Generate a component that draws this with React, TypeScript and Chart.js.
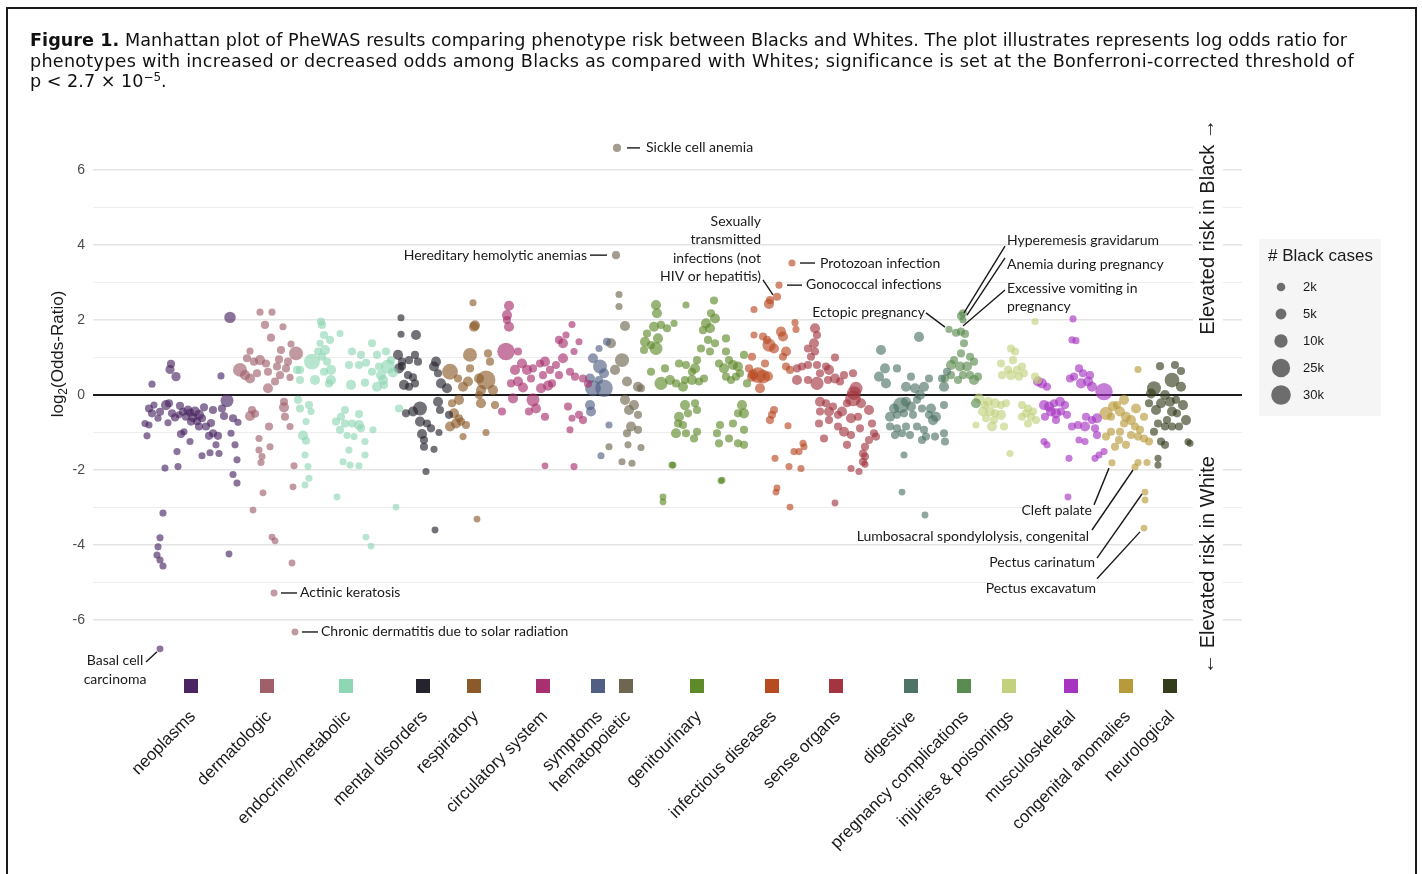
import React, { useEffect, useRef } from "react";
import { Chart, registerables } from "chart.js";
Chart.register(...registerables);

// ---------- DATA ----------
const categoryNames = [
  "neoplasms", "dermatologic", "endocrine/metabolic", "mental disorders", "respiratory",
  "circulatory system", "symptoms", "hematopoietic", "genitourinary", "infectious diseases",
  "sense organs", "digestive", "pregnancy complications", "injuries & poisonings",
  "musculoskeletal", "congenital anomalies", "neurological",
];
const categoryColors = [
  "#4a2562", "#a0606a", "#8fd6b4", "#25232e", "#8b5a2b", "#a8306e", "#525f84", "#6e6650",
  "#5e8a2a", "#b84a22", "#a33540", "#4f7466", "#5a8b50", "#c2d17e", "#a634c0", "#b89a3a", "#333d1c",
];
// phenotype index of each category's centre
const categoryCenters = [98, 174, 253, 330, 381, 450, 505, 533, 604, 679, 743, 818, 871, 916, 978, 1033, 1077];

// each point: [phenotype index, log2(OR), # Black cases (thousands)]
const neoplasms = [[59,0.29,.4],[78,0.83,1],[77,0.68,2],[83,0.49,2],[128,0.51,.4],[137,2.07,5],[134,-0.15,8],
[56,-0.36,1],[61,-0.27,.4],[59,-0.49,1],[52,-0.76,.4],[56,-0.8,.4],[54,-1.09,.4],[73,-0.27,3],[76,-0.22,1],[79,-0.49,1],[87,-0.29,1],[86,-0.53,.4],[93,-0.58,1],[97,-0.47,1],[102,-0.44,3],[106,-0.53,3],[109,-0.62,1],[98,-0.71,1],[91,-0.98,.4],[88,-1.04,1],[97,-1.24,.4],[84,-1.51,.4],[85,-1.91,.4],[109,-1.62,.4],[116,-1.09,1],[120,-1.02,1],[125,-1.09,1],[123,-1.33,.4],[117,-1.54,.4],[126,-1.56,.4],[111,-0.33,1],[120,-0.4,1],[129,-0.36,1],[131,-0.56,1],[140,-0.62,1],[145,-0.73,.4],[138,-1.02,.4],[142,-1.33,.4],[144,-1.73,.4],[140,-2.12,.4],[113,-0.84,1],[106,-0.84,1],[75,-0.74,.4],[72,-1.95,.4],[70,-3.15,.4],[67,-3.81,.4],[65,-4.05,.4],[64,-4.27,.4],[67,-4.4,.4],[70,-4.56,.4],[67,-6.77,.3],[144,-2.35,.4],[136,-4.24,.3],[95,-0.4,2],[100,-0.6,2],[82,-0.6,1],[67,-0.45,1],[65,-0.62,.4],[104,-0.7,1],[118,-0.75,1],[90,-0.45,1]];
const dermatologic = [[167,2.21,.4],[179,2.21,.4],[172,1.87,1],[190,1.82,.4],[178,1.53,1],[198,1.36,.4],[157,1.17,.4],[154,0.98,1],[161,0.89,1],[167,0.93,3],[173,0.84,1],[147,0.67,10],[152,0.53,3],[157,0.44,3],[164,0.58,1],[175,0.62,1],[184,0.76,1],[188,1.2,1],[195,0.89,1],[193,0.71,1],[187,0.53,1],[182,0.36,1],[175,0.18,3],[203,1.11,10],[197,0.47,.4],[159,-0.4,1],[157,-0.56,3],[191,-0.18,1],[191,-0.33,3],[192,-0.58,1],[176,-0.84,1],[166,-1.16,.4],[177,-1.38,.4],[166,-1.47,.4],[169,-1.64,.4],[168,-1.8,.4],[197,-0.84,.4],[170,-2.61,.3],[160,-3.07,.3],[179,-3.79,.3],[182,-3.89,.3],[199,-4.48,.3],[181,-5.28,.3],[202,-6.32,.3],[200,-2.45,.3],[201,-1.89,.4],[162,-0.5,1],[186,0.95,1]];
const endocrine = [[228,1.96,1],[229,1.87,1],[247,1.64,.4],[231,1.6,1],[237,1.47,1],[227,1.38,.4],[225,1.16,1],[232,1.2,3],[229,1.02,1],[219,0.89,15],[234,0.89,1],[238,0.67,3],[231,0.62,1],[222,0.4,3],[238,0.4,3],[236,0.31,1],[207,0.67,1],[204,0.67,1],[207,0.4,1],[279,1.38,1],[284,1.07,1],[259,1.16,1],[266,0.8,1],[273,0.86,1],[279,0.62,1],[258,0.27,3],[272,0.33,1],[284,0.22,3],[291,0.27,1],[295,0.76,10],[293,1.16,1],[288,0.53,3],[298,0.93,1],[286,0.76,1],[256,0.8,1],[268,1.07,1],[300,0.6,3],[290,0.4,3],[205,-0.13,1],[207,-0.36,1],[216,-0.27,1],[218,-0.44,.4],[213,-0.71,.4],[210,-1.08,3],[213,-1.22,1],[212,-1.6,.4],[215,-1.91,.4],[216,-2.22,.4],[252,-0.4,1],[248,-0.58,1],[243,-0.71,1],[247,-0.93,1],[252,-0.76,1],[259,-0.76,1],[266,-0.51,1],[266,-0.8,3],[268,-0.89,1],[254,-1.08,.4],[261,-1.11,.4],[280,-0.93,.4],[272,-1.24,.4],[256,-1.47,.4],[272,-1.6,.4],[250,-1.78,.4],[257,-1.87,.4],[266,-1.89,.4],[306,-0.36,1],[212,-2.4,.3],[244,-2.72,.3],[273,-3.79,.3],[278,-4.03,.3],[303,-2.99,.3]];
const mental = [[308,2.06,.4],[308,1.62,.4],[323,1.6,3],[305,1.07,3],[309,0.89,1],[316,0.93,1],[322,1.07,1],[325,0.89,1],[306,0.71,3],[309,0.77,1],[315,0.53,1],[320,0.47,1],[311,0.27,3],[316,0.22,1],[322,0.31,1],[343,0.89,3],[341,0.76,3],[345,0.58,1],[348,0.31,3],[354,0.18,3],[327,-0.36,10],[320,-0.44,3],[313,-0.49,1],[345,-0.18,3],[347,-0.4,1],[356,-0.53,1],[327,-0.71,3],[334,-0.76,1],[338,-0.89,1],[329,-1.04,3],[331,-1.2,1],[331,-1.38,1],[341,-1.45,.4],[346,-1.0,.4],[333,-2.04,.4],[342,-3.6,.3]];
const respiratory = [[380,2.46,.4],[381,1.82,3],[377,1.07,10],[395,1.11,1],[377,0.71,1],[397,0.89,1],[357,0.62,15],[365,0.44,1],[370,0.22,3],[375,0.36,3],[386,0.44,3],[393,0.4,25],[400,0.13,3],[388,0.13,3],[359,-0.22,1],[366,-0.13,3],[361,-0.49,3],[366,-0.62,1],[357,-0.84,3],[363,-0.76,3],[368,-0.71,1],[373,-0.8,1],[370,-1.11,.4],[388,-0.22,3],[402,-0.27,1],[393,-1.0,.4],[386,0.0,1],[384,-3.31,.3],[382,1.86,3]];
const circulatory = [[416,2.38,3],[414,2.13,3],[414,2.0,1],[416,1.82,3],[413,1.16,20],[425,1.16,1],[429,0.84,3],[422,0.67,3],[418,0.31,1],[425,0.36,3],[434,0.67,3],[438,0.44,1],[440,0.71,1],[447,0.84,1],[452,0.89,3],[450,0.53,1],[448,0.18,3],[457,0.67,1],[463,0.8,1],[466,1.47,1],[470,1.38,3],[473,1.6,.4],[479,1.88,.4],[486,1.42,.4],[481,1.16,.4],[470,0.98,3],[477,0.62,1],[482,0.49,1],[490,0.44,1],[466,0.53,1],[459,0.31,1],[420,-0.09,3],[440,-0.13,8],[443,-0.36,3],[436,-0.44,1],[409,-0.44,1],[452,-0.58,1],[475,-0.31,1],[486,-0.53,1],[490,-0.67,1],[479,-0.62,.4],[477,-0.93,.4],[481,-1.91,.4],[452,-1.89,.3],[455,0.25,3],[430,0.2,3],[495,0.3,1]];
const symptoms = [[514,1.42,1],[506,1.24,.4],[500,0.98,3],[507,0.76,10],[511,0.58,3],[497,0.44,3],[506,0.4,1],[500,0.18,15],[511,0.18,20],[497,-0.27,3],[498,-0.44,3],[516,-0.8,.4],[508,-1.62,.4]];
const hematopoietic = [[524,6.59,1],[523,3.73,1],[526,2.68,.4],[526,2.36,.4],[532,1.84,3],[518,1.38,3],[529,0.93,10],[522,0.67,3],[534,0.36,3],[545,0.22,3],[548,0.18,1],[532,-0.13,3],[541,-0.27,3],[536,-0.4,3],[545,-0.53,1],[538,-0.84,3],[534,-1.02,1],[545,-0.93,1],[516,-1.38,.4],[535,-1.33,.4],[548,-1.4,.4],[529,-1.78,.4],[539,-1.82,.4]];
const genitourinary = [[563,2.4,3],[564,2.18,3],[593,2.4,.4],[621,2.52,1],[618,2.18,1],[622,2.04,3],[613,1.91,3],[554,1.64,1],[561,1.82,3],[568,1.87,1],[574,1.78,1],[581,1.91,.4],[552,1.42,3],[558,1.33,1],[563,1.24,8],[551,1.2,1],[565,1.51,3],[610,1.73,1],[617,1.78,3],[615,1.47,1],[622,1.38,1],[633,1.51,1],[608,1.24,1],[617,1.16,1],[633,1.16,1],[604,0.93,1],[602,0.71,3],[593,0.8,1],[599,0.62,1],[611,0.44,1],[606,0.36,1],[599,0.4,3],[572,0.71,1],[577,0.4,3],[568,0.31,8],[558,0.62,1],[583,0.31,1],[590,0.22,3],[592,0.4,1],[586,0.84,1],[636,0.93,1],[640,0.8,3],[645,0.76,3],[633,0.49,1],[638,0.4,1],[643,0.49,1],[651,1.07,1],[647,0.58,1],[654,0.31,1],[631,0.71,3],[626,0.84,1],[592,-0.27,3],[602,-0.22,1],[604,-0.4,1],[595,-0.49,1],[586,-0.58,3],[585,-0.76,1],[590,-0.8,1],[583,-1.02,3],[593,-1.02,1],[604,-0.98,1],[601,-1.16,1],[579,-1.87,.4],[649,-0.27,3],[645,-0.49,1],[651,-0.49,3],[640,-0.76,1],[627,-0.8,1],[624,-1.02,1],[626,-1.29,1],[636,-1.16,1],[651,-0.93,1],[651,-1.33,1],[645,-1.29,1],[629,-2.27,.3],[570,-2.72,.3],[570,-2.85,.3],[628,-2.29,.3],[580,-1.87,.3]];
const infectious = [[699,3.52,.4],[686,2.93,.4],[684,2.62,1],[676,2.43,3],[677,2.53,1],[661,2.28,.4],[702,1.93,.4],[703,1.75,.4],[688,1.69,3],[690,1.56,3],[661,1.6,.4],[670,1.56,1],[674,1.47,1],[676,1.33,8],[681,1.24,3],[693,1.16,3],[690,1.02,1],[659,1.02,1],[672,0.84,1],[656,0.71,1],[665,0.53,15],[670,0.49,10],[659,0.49,3],[667,0.18,3],[693,0.76,1],[697,0.67,1],[681,-0.4,1],[679,-0.53,1],[677,-0.67,1],[695,-0.82,.4],[710,-1.29,.4],[711,-1.38,.4],[706,-1.51,.4],[701,-1.51,.4],[682,-1.69,.4],[696,-1.91,.4],[708,-1.96,.4],[684,-2.48,.3],[683,-2.59,.3],[697,-2.99,.3],[660,0.55,3],[675,0.5,3]];
const sense = [[722,1.78,3],[724,1.6,1],[721,1.38,3],[715,1.24,1],[722,1.16,1],[718,1.02,1],[742,1.0,1],[704,0.71,1],[709,0.76,1],[715,0.8,1],[724,0.8,1],[733,0.76,1],[736,0.67,3],[727,0.58,1],[704,0.4,3],[715,0.4,1],[724,0.31,8],[742,0.44,3],[747,0.36,1],[760,0.58,1],[735,0.4,1],[751,0.53,1],[727,-0.18,3],[733,-0.22,1],[763,0.18,8],[761,0.05,10],[760,-0.09,15],[754,-0.22,1],[768,-0.22,3],[740,-0.31,1],[736,-0.44,3],[727,-0.44,1],[749,-0.44,3],[745,-0.53,1],[758,-0.62,3],[765,-0.58,1],[776,-0.4,3],[736,-0.67,1],[726,-0.76,1],[745,-0.84,1],[751,-0.98,3],[758,-1.07,1],[767,-0.89,1],[779,-0.76,1],[781,-1.02,1],[783,-1.11,1],[776,-1.2,1],[731,-1.16,1],[754,-1.33,1],[770,-1.56,1],[772,-1.64,1],[770,-1.78,1],[758,-1.96,.4],[766,-2.04,.4],[772,-1.38,1],[742,-2.88,.3],[772,-1.85,.4]];
const digestive = [[826,1.55,3],[788,1.2,3],[792,0.71,3],[786,0.49,3],[793,0.31,3],[804,0.71,1],[818,0.49,1],[813,0.22,3],[822,0.18,3],[831,0.22,3],[827,0.0,3],[836,0.44,1],[849,0.44,1],[851,0.22,3],[854,0.62,1],[808,-0.27,15],[801,-0.36,3],[813,-0.18,3],[818,-0.31,3],[824,-0.13,1],[797,-0.58,3],[804,-0.53,1],[811,-0.49,1],[820,-0.53,1],[829,-0.36,1],[838,-0.36,3],[843,-0.58,3],[840,-0.67,3],[851,-0.27,1],[836,-0.53,1],[797,-0.84,1],[804,-0.89,1],[813,-0.84,1],[824,-0.84,1],[831,-0.93,1],[833,-1.11,1],[842,-1.11,1],[851,-1.02,1],[852,-1.24,1],[802,-1.07,1],[809,-1.02,1],[817,-1.07,1],[829,-1.2,1],[811,-1.6,.4],[809,-2.59,.3],[832,-3.2,.3]];
const pregnancy = [[870,2.18,1],[868,2.11,1],[870,2.0,.4],[856,1.75,.4],[863,1.66,1],[868,1.69,1],[872,1.63,1],[871,1.38,1],[868,1.11,1],[877,1.02,1],[861,0.93,1],[858,0.8,3],[867,0.76,3],[874,0.76,3],[881,0.89,1],[870,0.53,1],[877,0.53,1],[885,0.49,1],[858,0.53,1],[852,0.44,1],[865,0.4,1],[881,0.4,3],[883,-0.22,3]];
const injuries = [[942,1.96,.4],[918,1.24,1],[922,1.16,1],[920,0.93,1],[908,0.84,1],[915,0.67,1],[924,0.67,1],[929,0.76,1],[918,0.53,3],[909,0.53,1],[926,0.49,1],[931,0.58,1],[942,0.49,1],[945,0.4,1],[886,-0.09,3],[892,-0.27,1],[895,-0.18,3],[902,-0.22,3],[908,-0.27,1],[913,-0.22,1],[890,-0.44,3],[897,-0.44,3],[902,-0.49,1],[908,-0.53,3],[893,-0.62,1],[901,-0.67,1],[899,-0.84,3],[911,-0.84,1],[883,-0.8,.4],[929,-0.27,1],[935,-0.36,1],[933,-0.49,1],[929,-0.58,1],[938,-0.58,1],[940,-0.44,1],[935,-0.76,1],[943,-0.67,1],[917,-1.56,.4]];
const musculoskeletal = [[980,2.03,.4],[979,1.47,.4],[983,1.45,.4],[986,0.71,1],[990,0.58,1],[997,0.53,1],[981,0.49,1],[977,0.44,1],[995,0.36,3],[988,0.31,3],[999,0.22,3],[1011,0.09,20],[945,0.36,3],[949,0.31,3],[954,0.22,1],[951,-0.27,3],[956,-0.31,3],[961,-0.22,1],[967,-0.18,3],[972,-0.27,1],[958,-0.44,3],[963,-0.49,3],[968,-0.44,1],[974,-0.53,1],[952,-0.58,1],[963,-0.67,1],[979,-0.84,1],[985,-0.8,1],[993,-0.58,1],[992,-0.84,3],[999,-0.67,1],[1004,-0.62,3],[1002,-0.89,1],[1004,-1.07,1],[986,-1.2,.4],[992,-1.24,.4],[951,-1.24,.4],[954,-1.33,.4],[1006,-1.6,.4],[1011,-1.51,.4],[976,-1.69,.4],[1002,-1.69,.4],[975,-2.72,.3]];
const congenital = [[1045,0.68,.4],[1031,-0.13,3],[1024,-0.27,1],[1013,-0.49,8],[1018,-0.58,1],[1027,-0.44,3],[1033,-0.58,3],[1043,-0.36,3],[1038,-0.67,3],[1051,-0.58,1],[1031,-0.76,1],[1042,-0.84,1],[1047,-0.93,1],[1018,-0.98,1],[1027,-0.98,1],[1038,-1.07,1],[1045,-1.11,1],[1051,-1.16,1],[1056,-1.24,1],[1013,-1.11,1],[1022,-1.38,1],[1033,-1.33,1],[1026,-1.2,1],[1019,-1.81,.4],[1042,-1.92,.4],[1052,-2.59,.3],[1052,-2.8,.3],[1051,-3.55,.3],[1045,-1.8,.4],[1054,-1.8,.4],[1020,-0.3,3]];
const neurological = [[1067,0.77,1],[1082,0.8,1],[1088,0.64,1],[1079,0.4,12],[1088,0.22,3],[1061,0.18,10],[1058,0.04,3],[1072,0.0,3],[1077,-0.18,3],[1068,-0.22,3],[1083,-0.13,1],[1090,-0.27,3],[1056,-0.22,1],[1063,-0.4,3],[1079,-0.44,3],[1084,-0.49,1],[1093,-0.67,3],[1074,-0.67,1],[1065,-0.76,1],[1072,-0.84,1],[1079,-0.84,1],[1086,-0.84,1],[1061,-0.98,1],[1068,-1.24,1],[1072,-1.33,1],[1065,-1.69,.4],[1065,-1.87,.4],[1097,-1.29,.4],[1095,-1.25,.4]];

const categoryPoints = [neoplasms, dermatologic, endocrine, mental, respiratory, circulatory, symptoms,
  hematopoietic, genitourinary, infectious, sense, digestive, pregnancy, injuries, musculoskeletal, congenital, neurological];

const yGridValues = [-6, -5, -4, -3, -2, -1, 0, 1, 2, 3, 4, 5, 6];
const legendCases = [2, 5, 10, 25, 30];
const legendLabels = ["2k", "5k", "10k", "25k", "30k"];

// annotations: text lines, text anchor (data), alignment, leader line (data)
const annotations = [
  { lines: ["Sickle cell anemia"], tx: 553, ty: 6.59, align: "left", lead: [534, 6.59, 547, 6.59] },
  { lines: ["Hereditary hemolytic anemias"], tx: 494, ty: 3.73, align: "right", lead: [497, 3.73, 514, 3.73] },
  { lines: ["Sexually", "transmitted", "infections (not", "HIV or hepatitis)"], tx: 668, ty: 4.64, align: "right", lead: [670, 3.07, 680, 2.67] },
  { lines: ["Protozoan infection"], tx: 727, ty: 3.52, align: "left", lead: [707, 3.52, 722, 3.52] },
  { lines: ["Gonococcal infections"], tx: 713, ty: 2.95, align: "left", lead: [694, 2.93, 709, 2.93] },
  { lines: ["Ectopic pregnancy"], tx: 832, ty: 2.21, align: "right", lead: [833, 2.19, 852, 1.81] },
  { lines: ["Hyperemesis gravidarum"], tx: 914, ty: 4.11, align: "left", lead: [912, 3.97, 871, 2.19] },
  { lines: ["Anemia during pregnancy"], tx: 914, ty: 3.49, align: "left", lead: [912, 3.66, 874, 2.13] },
  { lines: ["Excessive vomiting in", "pregnancy"], tx: 914, ty: 2.85, align: "left", lead: [912, 2.8, 870, 1.84] },
  { lines: ["Actinic keratosis"], tx: 207, ty: -5.28, align: "left", lead: [188, -5.28, 204, -5.28] },
  { lines: ["Chronic dermatitis due to solar radiation"], tx: 228, ty: -6.32, align: "left", lead: [209, -6.32, 225, -6.32] },
  { lines: ["Basal cell", "carcinoma"], tx: 22, ty: -7.09, align: "center", lead: [53, -7.12, 64, -6.85] },
  { lines: ["Cleft palate"], tx: 999, ty: -3.09, align: "right", lead: [1001, -2.93, 1016, -1.95] },
  { lines: ["Lumbosacral spondylolysis, congenital"], tx: 996, ty: -3.76, align: "right", lead: [999, -3.6, 1040, -2.0] },
  { lines: ["Pectus carinatum"], tx: 1002, ty: -4.48, align: "right", lead: [1004, -4.35, 1049, -2.64] },
  { lines: ["Pectus excavatum"], tx: 1003, ty: -5.15, align: "right", lead: [1004, -4.9, 1047, -3.65] },
];

// ---------- helpers ----------
const radiusFor = (k: number) => 2.7 + 1.35 * Math.sqrt(k);
const hexA = (hex: string, a: number) => {
  const n = parseInt(hex.slice(1), 16);
  return `rgba(${(n >> 16) & 255},${(n >> 8) & 255},${n & 255},${a})`;
};
const SANS = "'Liberation Sans', Arial, Helvetica, sans-serif";
const ANN = "Lato, 'Open Sans', sans-serif";

const overlay = {
  id: "overlay",
  afterDatasetsDraw(chart: any) {
    const { ctx, scales } = chart;
    const xs = scales.x, ys = scales.y;
    const px = (v: number) => xs.getPixelForValue(v);
    const py = (v: number) => ys.getPixelForValue(v);
    ctx.save();

    // annotations
    ctx.fillStyle = "#1a1a1a";
    ctx.strokeStyle = "#1a1a1a";
    ctx.lineWidth = 1.4;
    ctx.font = `14px ${ANN}`;
    ctx.textBaseline = "middle";
    for (const a of annotations) {
      const [x1, y1, x2, y2] = a.lead;
      ctx.beginPath();
      ctx.moveTo(px(x1), py(y1));
      ctx.lineTo(px(x2), py(y2));
      ctx.stroke();
      ctx.textAlign = a.align as CanvasTextAlign;
      a.lines.forEach((ln, i) => ctx.fillText(ln, px(a.tx), py(a.ty) + i * 18.6));
    }

    // category squares and labels
    ctx.font = `17px ${SANS}`;
    ctx.textAlign = "right";
    ctx.textBaseline = "top";
    categoryNames.forEach((name, i) => {
      const cx = px(categoryCenters[i]);
      ctx.fillStyle = categoryColors[i];
      ctx.fillRect(cx - 7, 679, 14, 14);
      ctx.save();
      ctx.translate(cx - 4, 708);
      ctx.rotate(-Math.PI / 4);
      ctx.fillStyle = "#1a1a1a";
      ctx.fillText(name, 0, 0);
      ctx.restore();
    });

    // y-axis title with subscript
    ctx.save();
    ctx.translate(63, 354);
    ctx.rotate(-Math.PI / 2);
    ctx.fillStyle = "#1a1a1a";
    ctx.textBaseline = "alphabetic";
    ctx.textAlign = "left";
    ctx.font = `17px ${SANS}`;
    const w1 = ctx.measureText("log").width;
    const w3 = ctx.measureText("(Odds-Ratio)").width;
    ctx.font = `12px ${SANS}`;
    const w2 = ctx.measureText("2").width;
    let sx = -(w1 + w2 + w3) / 2;
    ctx.font = `17px ${SANS}`;
    ctx.fillText("log", sx, 0);
    sx += w1;
    ctx.font = `12px ${SANS}`;
    ctx.fillText("2", sx, 4);
    sx += w2;
    ctx.font = `17px ${SANS}`;
    ctx.fillText("(Odds-Ratio)", sx, 0);
    ctx.restore();

    // right-side vertical texts
    const vtext = (t: string, cx: number, cy: number) => {
      ctx.save();
      ctx.translate(cx, cy);
      ctx.rotate(-Math.PI / 2);
      ctx.font = `20px ${SANS}`;
      const w = ctx.measureText(t).width;
      ctx.fillStyle = "#fff";
      ctx.fillRect(-w / 2 - 6, -15, w + 12, 30);
      ctx.fillStyle = "#1a1a1a";
      ctx.textAlign = "center";
      ctx.textBaseline = "middle";
      ctx.fillText(t, 0, 0);
      ctx.restore();
    };
    vtext("Elevated risk in Black \u2192", 1208, 227);
    vtext("\u2190 Elevated risk in White", 1208, 565);

    // size legend
    ctx.fillStyle = "#f5f5f5";
    ctx.fillRect(1259, 239, 122, 177);
    ctx.fillStyle = "#1a1a1a";
    ctx.font = `17px ${SANS}`;
    ctx.textAlign = "left";
    ctx.textBaseline = "middle";
    ctx.fillText("# Black cases", 1268, 256);
    ctx.font = `13px ${SANS}`;
    legendCases.forEach((k, i) => {
      const cy = 287 + i * 27;
      ctx.fillStyle = "rgba(85,85,85,0.85)";
      ctx.beginPath();
      ctx.arc(1281, cy, radiusFor(k) - 0.3, 0, Math.PI * 2);
      ctx.fill();
      ctx.fillStyle = "#1a1a1a";
      ctx.fillText(legendLabels[i], 1303, cy);
    });

    ctx.restore();
  },
};

export default function App() {
  const ref = useRef<HTMLCanvasElement>(null);
  useEffect(() => {
    Chart.defaults.font.family = SANS;
    const datasets = categoryPoints.map((pts, i) => ({
      label: categoryNames[i],
      data: pts.map((p) => ({ x: p[0], y: p[1], k: p[2] })),
      backgroundColor: hexA(categoryColors[i], 0.64),
      borderWidth: 0,
      pointRadius: (c: any) => radiusFor(c.raw ? c.raw.k : 1),
      clip: false as any,
    }));
    const chart = new Chart(ref.current as HTMLCanvasElement, {
      type: "scatter",
      data: { datasets } as any,
      options: {
        responsive: false,
        animation: false,
        events: [],
        layout: { padding: { left: 71, right: 180, top: 141.9, bottom: 218.4 } },
        plugins: { legend: { display: false }, tooltip: { enabled: false } },
        scales: {
          x: { type: "linear", min: 0, max: 1149, display: false },
          y: {
            type: "linear",
            min: -6.95,
            max: 6.75,
            afterBuildTicks: (s: any) => { s.ticks = yGridValues.map((v) => ({ value: v })); },
            afterFit: (s: any) => { s.width = 22; },
            border: { display: false },
            grid: {
              drawTicks: false,
              color: (c: any) => (c.tick.value === 0 ? "#1c1c1c" : Math.abs(c.tick.value) % 2 === 0 ? "#e4e4e4" : "#eeeeee"),
              lineWidth: (c: any) => (c.tick.value === 0 ? 2 : Math.abs(c.tick.value) % 2 === 0 ? 1.4 : 1.1),
            },
            ticks: {
              autoSkip: false,
              padding: 8,
              color: "#4d4d4d",
              font: { size: 14, family: SANS },
              callback: (v: any) => (Math.abs(v) % 2 === 0 ? String(v) : ""),
            },
          },
        },
      },
      plugins: [overlay],
    } as any);
    return () => chart.destroy();
  }, []);

  const cap: React.CSSProperties = {
    position: "absolute", left: 30, whiteSpace: "nowrap", fontFamily: "'DejaVu Sans', sans-serif",
    fontSize: 17.6, color: "#111", lineHeight: "20px",
  };
  return (
    <div style={{ position: "absolute", left: 0, top: 0, width: 1422, height: 874, overflow: "hidden", background: "#fff" }}>
      <canvas ref={ref} width={1422} height={874} style={{ position: "absolute", left: 0, top: 0, width: 1422, height: 874 }} />
      <div style={{ position: "absolute", left: 6, top: 7, width: 1411, height: 900, border: "2px solid #1a1a1a", boxSizing: "border-box" }} />
      <div style={{ ...cap, top: 30, letterSpacing: "0.05px" }}><b>Figure 1.</b> Manhattan plot of PheWAS results comparing phenotype risk between Blacks and Whites. The plot illustrates represents log odds ratio for</div>
      <div style={{ ...cap, top: 51, letterSpacing: "0.26px" }}>phenotypes with increased or decreased odds among Blacks as compared with Whites; significance is set at the Bonferroni-corrected threshold of</div>
      <div style={{ ...cap, top: 71 }}>p &lt; 2.7 × 10<sup style={{ fontSize: 12, verticalAlign: "6px", lineHeight: 0 }}>−5</sup>.</div>
    </div>
  );
}
